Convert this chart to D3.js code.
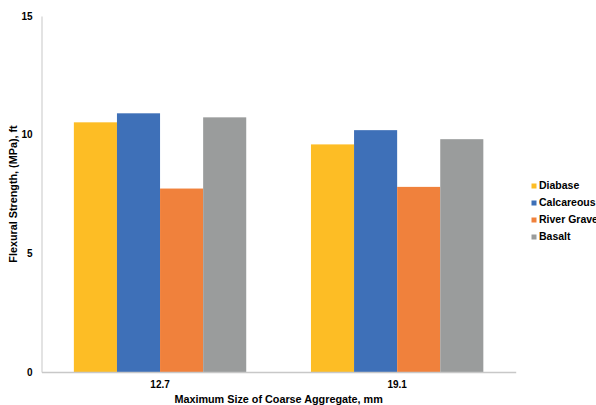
<!DOCTYPE html>
<html><head><meta charset="utf-8">
<script src="https://cdn.jsdelivr.net/npm/d3@7"></script>
<style>body{margin:0;background:#fff}svg{display:block}text{font-family:"Liberation Sans",Arial,sans-serif;font-weight:bold;fill:#000}</style>
</head><body><svg id="c" width="596" height="405"></svg>
<script>
const categories = ["12.7", "19.1"];
const seriesNames = ["Diabase", "Calcareous", "River Gravel", "Basalt"];
const diabase = [10.52, 9.59];
const calcareous = [10.90, 10.19];
const riverGravel = [7.73, 7.80];
const basalt = [10.73, 9.81];
const yTicks = [0, 5, 10, 15];
const colors = ["#FDBD25", "#3E70B8", "#F0813C", "#9A9C9C"];
const series = [diabase, calcareous, riverGravel, basalt];

const svg = d3.select("#c");
const m = {l: 41.5, r: 596 - 515.7, t: 16, b: 405 - 372};
const W = 596 - m.l - m.r, H = 405 - m.t - m.b;
const g = svg.append("g").attr("transform", `translate(${m.l},${m.t})`);

const x0 = d3.scaleBand().domain(categories).range([0, W]).paddingInner(0.273).paddingOuter(0.1365);
const x1 = d3.scaleBand().domain(seriesNames).range([0, x0.bandwidth()]);
const y = d3.scaleLinear().domain([0, 15]).range([H, 0]);

categories.forEach((c, ci) => {
  const gg = g.append("g").attr("transform", `translate(${x0(c)},0)`);
  seriesNames.forEach((s, si) => {
    gg.append("rect").attr("x", x1(s)).attr("width", x1.bandwidth())
      .attr("y", y(series[si][ci])).attr("height", H - y(series[si][ci]))
      .attr("fill", colors[si]);
  });
});

const ya = g.append("g").call(d3.axisLeft(y).tickValues(yTicks).tickSize(0).tickPadding(9));
ya.select(".domain").attr("stroke", "#d0d0d0").attr("stroke-width", 1.2);
ya.selectAll("text").style("font-size", "10px").style("font-family", '"Liberation Sans",Arial,sans-serif').style("font-weight", "bold");

const xa = g.append("g").attr("transform", `translate(0,${H})`).call(d3.axisBottom(x0).tickSize(0).tickPadding(9));
xa.select(".domain").attr("stroke", "#c8c8c8").attr("stroke-width", 1.5);
xa.selectAll("text").style("font-size", "10px").style("font-family", '"Liberation Sans",Arial,sans-serif').style("font-weight", "bold");

svg.append("text").attr("x", m.l + W / 2).attr("y", 400.5).attr("text-anchor", "middle")
  .attr("dominant-baseline", "middle").style("font-size", "10.8px").text("Maximum Size of Coarse Aggregate, mm");
svg.append("text").attr("transform", `translate(14,194) rotate(-90)`).attr("text-anchor", "middle")
  .attr("dominant-baseline", "middle").style("font-size", "10.8px").text("Flexural Strength, (MPa), ft");

const lg = svg.append("g").attr("transform", "translate(531.5,186)");
seriesNames.forEach((s, i) => {
  const r = lg.append("g").attr("transform", `translate(0,${i * 17})`);
  r.append("rect").attr("x", 0).attr("y", -2.5).attr("width", 5).attr("height", 5).attr("fill", colors[i]);
  r.append("text").attr("x", 7.5).attr("y", 0).attr("dominant-baseline", "middle").style("font-size", "10.5px").text(s);
});
</script></body></html>
